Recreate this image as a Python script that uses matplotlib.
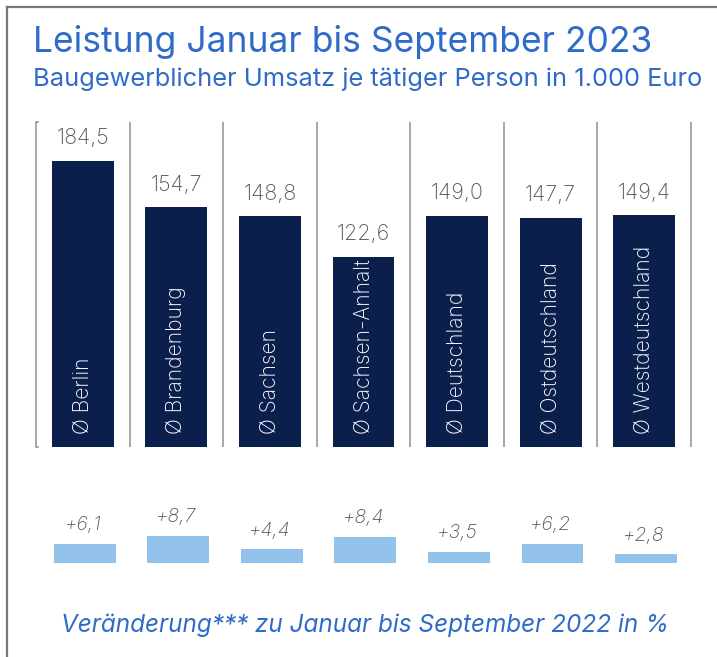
import matplotlib.pyplot as plt
from matplotlib.lines import Line2D

plt.rcParams['font.family'] = ['Inter', 'DejaVu Sans']

# data
regions = ["Ø Berlin", "Ø Brandenburg", "Ø Sachsen", "Ø Sachsen-Anhalt",
           "Ø Deutschland", "Ø Ostdeutschland", "Ø Westdeutschland"]
umsatz = [184.5, 154.7, 148.8, 122.6, 149.0, 147.7, 149.4]
veraenderung = [6.1, 8.7, 4.4, 8.4, 3.5, 6.2, 2.8]

title = "Leistung Januar bis September 2023"
subtitle = "Baugewerblicher Umsatz je tätiger Person in 1.000 Euro"
footer = "Veränderung*** zu Januar bis September 2022 in %"

blue = "#2F6BC9"
navy = "#0B1F4D"
light = "#93C2EA"
grey_txt = "#555555"
sep = "#9A9A9A"

W, H = 717, 657
fig = plt.figure(figsize=(W / 100, H / 100), dpi=100)

def px_box(x0, y0, x1, y1):
    # pixel box (top-left origin) -> figure fraction rect
    return [x0 / W, 1 - y1 / H, (x1 - x0) / W, (y1 - y0) / H]

# frame lines
fig.add_artist(Line2D([7 / W, 7 / W], [0, 1 - 7 / H], color="#777777", lw=1.6))
fig.add_artist(Line2D([7 / W, 1], [1 - 7 / H, 1 - 7 / H], color="#777777", lw=1.6))

fig.text(33 / W, 1 - 42 / H, title, color=blue, fontsize=25.5, va="center", ha="left")
fig.text(33 / W, 1 - 79 / H, subtitle, color=blue, fontsize=18.3, va="center", ha="left")

# main bars
ax = fig.add_axes(px_box(36, 122, 691, 447))
n = len(regions)
ax.set_xlim(-0.5, n - 0.5)
ax.set_ylim(0, 209.5)
ax.axis("off")
ax.bar(range(n), umsatz, width=0.66, color=navy)
for i, (r, v) in enumerate(zip(regions, umsatz)):
    ax.text(i, v + 8, f"{v:.1f}".replace(".", ","), ha="center", va="bottom",
            color=grey_txt, fontsize=15.5, fontweight="light")
    ax.text(i, 8.5, r, rotation=90, ha="center", va="bottom", color="white",
            fontsize=15.2, fontweight="light")
for k in range(n + 1):
    ax.plot([k - 0.5, k - 0.5], [0, 209.5], color=sep, lw=1.2,
            solid_capstyle="butt", clip_on=False)
# little bracket hooks on the left edge
ax.plot([-0.5, -0.48], [0, 0], color=sep, lw=1.2, clip_on=False)
ax.plot([-0.5, -0.48], [209.5, 209.5], color=sep, lw=1.2, clip_on=False)

# change bars
ax2 = fig.add_axes(px_box(36, 470, 691, 563))
ax2.set_xlim(-0.5, n - 0.5)
ax2.set_ylim(0, 30)
ax2.axis("off")
ax2.bar([i + 0.02 for i in range(n)], veraenderung, width=0.66, color=light)
for i, v in enumerate(veraenderung):
    ax2.annotate(f"+{v:.1f}".replace(".", ","), (i, v), xytext=(0, 7),
                 textcoords="offset points", ha="center", va="bottom",
                 color=grey_txt, fontsize=14, style="italic", fontweight="light")

fig.text(365 / W, 1 - 625 / H, footer, color=blue, fontsize=17.5,
         style="italic", ha="center", va="center")

fig.savefig("out.png", dpi=100)
